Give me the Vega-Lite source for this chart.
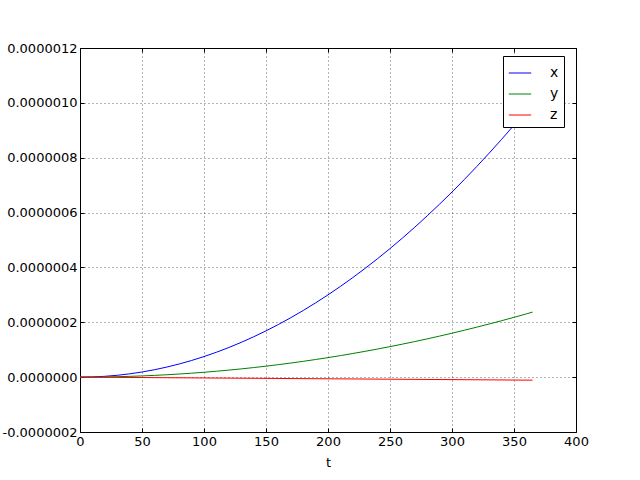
{
  "$schema": "https://vega.github.io/schema/vega-lite/v6.json",
  "width": 496,
  "height": 384,
  "autosize": {"type": "none"},
  "padding": {"left": 80, "top": 48, "right": 64, "bottom": 48},
  "background": "white",
  "config": {
    "font": "DejaVu Sans",
    "view": {"stroke": "black", "strokeWidth": 1},
    "axis": {
      "labelFont": "DejaVu Sans",
      "labelFontSize": 13,
      "labelColor": "black",
      "labelFlush": false,
      "labelOverlap": false,
      "titleFont": "DejaVu Sans",
      "titleFontSize": 13,
      "titleFontWeight": "normal",
      "titleColor": "black",
      "domain": false,
      "tickColor": "black",
      "tickSize": -4,
      "grid": true,
      "gridColor": "black",
      "gridDash": [1, 3],
      "gridOpacity": 0.6
    }
  },
  "data": {
    "values": [
      {"t": 0, "s": "x", "v": 0}, {"t": 10, "s": "x", "v": 7.5e-10}, {"t": 20, "s": "x", "v": 3.0e-9}, {"t": 30, "s": "x", "v": 6.75e-9}, {"t": 40, "s": "x", "v": 1.2e-8}, {"t": 50, "s": "x", "v": 1.875e-8}, {"t": 60, "s": "x", "v": 2.7e-8}, {"t": 70, "s": "x", "v": 3.675e-8}, {"t": 80, "s": "x", "v": 4.8e-8}, {"t": 90, "s": "x", "v": 6.075e-8}, {"t": 100, "s": "x", "v": 7.5e-8}, {"t": 110, "s": "x", "v": 9.075e-8}, {"t": 120, "s": "x", "v": 1.08e-7}, {"t": 130, "s": "x", "v": 1.2675e-7}, {"t": 140, "s": "x", "v": 1.47e-7}, {"t": 150, "s": "x", "v": 1.6875e-7}, {"t": 160, "s": "x", "v": 1.92e-7}, {"t": 170, "s": "x", "v": 2.1675e-7}, {"t": 180, "s": "x", "v": 2.43e-7}, {"t": 190, "s": "x", "v": 2.7075e-7}, {"t": 200, "s": "x", "v": 3.0e-7}, {"t": 210, "s": "x", "v": 3.3075e-7}, {"t": 220, "s": "x", "v": 3.63e-7}, {"t": 230, "s": "x", "v": 3.9675e-7}, {"t": 240, "s": "x", "v": 4.32e-7}, {"t": 250, "s": "x", "v": 4.6875e-7}, {"t": 260, "s": "x", "v": 5.07e-7}, {"t": 270, "s": "x", "v": 5.4675e-7}, {"t": 280, "s": "x", "v": 5.88e-7}, {"t": 290, "s": "x", "v": 6.3075e-7}, {"t": 300, "s": "x", "v": 6.75e-7}, {"t": 310, "s": "x", "v": 7.2075e-7}, {"t": 320, "s": "x", "v": 7.68e-7}, {"t": 330, "s": "x", "v": 8.1675e-7}, {"t": 340, "s": "x", "v": 8.67e-7}, {"t": 350, "s": "x", "v": 9.1875e-7}, {"t": 360, "s": "x", "v": 9.72e-7}, {"t": 365, "s": "x", "v": 9.99e-7},
      {"t": 0, "s": "y", "v": 0}, {"t": 10, "s": "y", "v": 1.78e-10}, {"t": 20, "s": "y", "v": 7.12e-10}, {"t": 30, "s": "y", "v": 1.602e-9}, {"t": 40, "s": "y", "v": 2.848e-9}, {"t": 50, "s": "y", "v": 4.45e-9}, {"t": 60, "s": "y", "v": 6.408e-9}, {"t": 70, "s": "y", "v": 8.722e-9}, {"t": 80, "s": "y", "v": 1.1392e-8}, {"t": 90, "s": "y", "v": 1.4418e-8}, {"t": 100, "s": "y", "v": 1.78e-8}, {"t": 110, "s": "y", "v": 2.1538e-8}, {"t": 120, "s": "y", "v": 2.5632e-8}, {"t": 130, "s": "y", "v": 3.0082e-8}, {"t": 140, "s": "y", "v": 3.4888e-8}, {"t": 150, "s": "y", "v": 4.005e-8}, {"t": 160, "s": "y", "v": 4.5568e-8}, {"t": 170, "s": "y", "v": 5.1442e-8}, {"t": 180, "s": "y", "v": 5.7672e-8}, {"t": 190, "s": "y", "v": 6.4258e-8}, {"t": 200, "s": "y", "v": 7.12e-8}, {"t": 210, "s": "y", "v": 7.8498e-8}, {"t": 220, "s": "y", "v": 8.6152e-8}, {"t": 230, "s": "y", "v": 9.4162e-8}, {"t": 240, "s": "y", "v": 1.02528e-7}, {"t": 250, "s": "y", "v": 1.1125e-7}, {"t": 260, "s": "y", "v": 1.20328e-7}, {"t": 270, "s": "y", "v": 1.29762e-7}, {"t": 280, "s": "y", "v": 1.39552e-7}, {"t": 290, "s": "y", "v": 1.49698e-7}, {"t": 300, "s": "y", "v": 1.602e-7}, {"t": 310, "s": "y", "v": 1.71058e-7}, {"t": 320, "s": "y", "v": 1.82272e-7}, {"t": 330, "s": "y", "v": 1.93842e-7}, {"t": 340, "s": "y", "v": 2.05768e-7}, {"t": 350, "s": "y", "v": 2.1805e-7}, {"t": 360, "s": "y", "v": 2.30688e-7}, {"t": 365, "s": "y", "v": 2.37145e-7},
      {"t": 0, "s": "z", "v": 0}, {"t": 50, "s": "z", "v": -1.5e-9}, {"t": 100, "s": "z", "v": -3.0e-9}, {"t": 150, "s": "z", "v": -4.5e-9}, {"t": 200, "s": "z", "v": -6.0e-9}, {"t": 250, "s": "z", "v": -7.5e-9}, {"t": 300, "s": "z", "v": -9.0e-9}, {"t": 365, "s": "z", "v": -1.1e-8}
    ]
  },
  "layer": [
    {
      "mark": {"type": "line", "strokeWidth": 1, "clip": true},
      "encoding": {
        "x": {
          "field": "t", "type": "quantitative",
          "scale": {"domain": [0, 400], "nice": false, "zero": false},
          "axis": {"title": "t", "values": [0, 50, 100, 150, 200, 250, 300, 350, 400], "labelPadding": 7, "titlePadding": 8}
        },
        "y": {
          "field": "v", "type": "quantitative",
          "scale": {"domain": [-2e-7, 1.2e-6], "nice": false, "zero": false},
          "axis": {"title": null, "values": [-2e-7, 0, 2e-7, 4e-7, 6e-7, 8e-7, 1e-6, 1.2e-6], "labelExpr": "replace(format(datum.value, '.7f'), '\u2212', '-')", "labelPadding": 7}
        },
        "color": {
          "field": "s", "type": "nominal",
          "scale": {"domain": ["x", "y", "z"], "range": ["#0000ff", "#008000", "#ff0000"]},
          "legend": {
            "title": null,
            "orient": "none",
            "legendX": 423,
            "legendY": 8,
            "symbolType": "stroke",
            "symbolSize": 500,
            "symbolStrokeWidth": 1,
            "labelFontSize": 14,
            "labelFont": "DejaVu Sans",
            "labelColor": "black",
            "rowPadding": 2,
            "labelOffset": 18,
            "padding": 5,
            "strokeColor": "black",
            "fillColor": "white",
            "cornerRadius": 0
          }
        }
      }
    },
    {
      "mark": {"type": "line", "opacity": 0},
      "encoding": {
        "x": {
          "field": "t", "type": "quantitative",
          "scale": {"domain": [0, 400], "nice": false, "zero": false},
          "axis": {"orient": "top", "title": null, "labels": false, "grid": false, "values": [0, 50, 100, 150, 200, 250, 300, 350, 400]}
        },
        "y": {
          "field": "v", "type": "quantitative",
          "scale": {"domain": [-2e-7, 1.2e-6], "nice": false, "zero": false},
          "axis": {"orient": "right", "title": null, "labels": false, "grid": false, "values": [-2e-7, 0, 2e-7, 4e-7, 6e-7, 8e-7, 1e-6, 1.2e-6]}
        }
      }
    }
  ],
  "resolve": {"axis": {"x": "independent", "y": "independent"}}
}
